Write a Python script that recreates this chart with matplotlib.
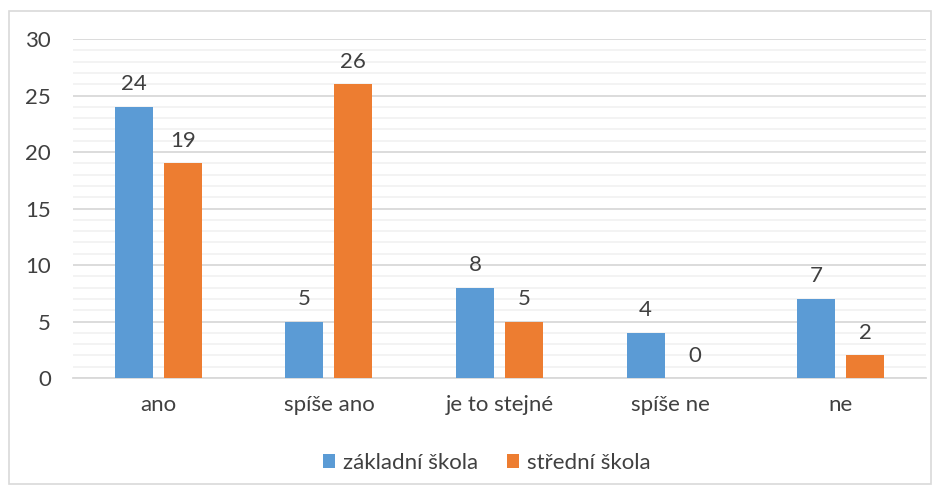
import matplotlib
matplotlib.use('Agg')
import matplotlib.pyplot as plt
from matplotlib.patches import Rectangle
import numpy as np

plt.rcParams['font.family'] = ['Lato', 'DejaVu Sans']

categories = ['ano', 'spíše ano', 'je to stejné', 'spíše ne', 'ne']
zakladni = [24, 5, 8, 4, 7]
stredni = [19, 26, 5, 0, 2]
series_names = ['základní škola', 'střední škola']
colors = ['#5B9BD5', '#ED7D31']
text_col = '#404040'
fs = 16

fig = plt.figure(figsize=(9.4, 4.95), dpi=100)
ax = fig.add_axes([73 / 940, 1 - 378 / 495, 853 / 940, 339 / 495])

x = np.arange(len(categories))
w = 0.223
off = 0.1436
b1 = ax.bar(x - off, zakladni, w, color=colors[0], label=series_names[0], zorder=3)
b2 = ax.bar(x + off, stredni, w, color=colors[1], label=series_names[1], zorder=3)

for bars, vals in ((b1, zakladni), (b2, stredni)):
    for r, v in zip(bars, vals):
        ax.annotate(str(v), (r.get_x() + r.get_width() / 2, v), xytext=(0, 9),
                    textcoords='offset points', ha='center', va='bottom',
                    fontsize=fs, color=text_col)

ax.set_xlim(-0.5, len(categories) - 0.5)
ax.set_ylim(0, 30)
ax.set_yticks(range(0, 31, 5))
ax.set_yticks(range(0, 31, 1), minor=True)
ax.set_xticks(x)
ax.set_xticklabels(categories)
ax.tick_params(axis='both', length=0, labelsize=fs, labelcolor=text_col)
ax.tick_params(axis='y', which='both', length=0, pad=16)
ax.tick_params(axis='x', pad=12)
ax.grid(axis='y', which='major', color='#D9D9D9', linewidth=1.3, zorder=0)
ax.grid(axis='y', which='minor', color='#F2F2F2', linewidth=1.3, zorder=0)
for s in ['top', 'right', 'left']:
    ax.spines[s].set_visible(False)
ax.spines['bottom'].set_color('#D9D9D9')
ax.spines['bottom'].set_linewidth(1.3)

fig.legend(loc='center', bbox_to_anchor=(487 / 940, 1 - 463 / 495), ncol=2, frameon=False,
           fontsize=fs, labelcolor=text_col, handlelength=0.55, handleheight=0.55,
           handletextpad=0.35, columnspacing=1.3)

fig.patches.append(Rectangle((9 / 940, 1 - 484 / 495), 922 / 940, 473 / 495,
                             transform=fig.transFigure, fill=False,
                             edgecolor='#D9D9D9', linewidth=1.2))

fig.savefig('out.png', dpi=100, facecolor='white')
